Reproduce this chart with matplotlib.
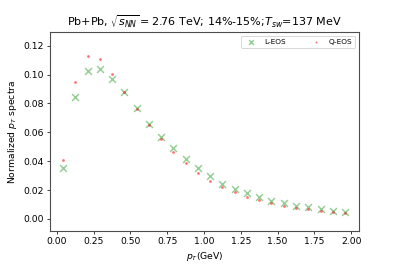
import numpy as np
import matplotlib
matplotlib.use("Agg")
import matplotlib.pyplot as plt

# pT bin centres (GeV)
pt = np.array([0.042, 0.125, 0.208, 0.292, 0.375, 0.458, 0.542, 0.625,
               0.708, 0.792, 0.875, 0.958, 1.042, 1.125, 1.208, 1.292,
               1.375, 1.458, 1.542, 1.625, 1.708, 1.792, 1.875, 1.958])

# normalized spectra
l_eos = [0.0355, 0.0845, 0.1025, 0.1035, 0.0970, 0.0880, 0.0770, 0.0660,
         0.0570, 0.0490, 0.0415, 0.0350, 0.0295, 0.0245, 0.0210, 0.0180,
         0.0152, 0.0127, 0.0107, 0.0092, 0.0080, 0.0068, 0.0056, 0.0046]
q_eos = [0.0405, 0.0950, 0.1130, 0.1110, 0.1005, 0.0880, 0.0760, 0.0650,
         0.0550, 0.0460, 0.0385, 0.0320, 0.0265, 0.0220, 0.0185, 0.0155,
         0.0130, 0.0107, 0.0090, 0.0077, 0.0066, 0.0056, 0.0048, 0.0040]

fig, ax = plt.subplots(figsize=(6, 4), dpi=66.5)
fig.subplots_adjust(left=0.125, right=0.9, top=0.88, bottom=0.132)
ax.scatter(pt, l_eos, marker='x', s=55, linewidths=1.6, color='tab:green', alpha=0.5, label='L-EOS')
ax.scatter(pt, q_eos, marker='o', s=9, color='red', alpha=0.55, linewidths=0, label='Q-EOS')

ax.set_xlim(-0.048, 2.054)
ax.set_ylim(-0.0083, 0.1295)
ax.set_xticks(np.arange(0, 2.01, 0.25))
ax.set_yticks(np.arange(0, 0.121, 0.02))
ax.set_xlabel(r'$p_T$(GeV)')
ax.set_ylabel(r'Normalized $p_T$ spectra')
ax.set_title(r'Pb+Pb, $\sqrt{s_{NN}}=2.76$ TeV; 14%-15%;$T_{sw}$=137 MeV')
for sp in ax.spines.values():
    sp.set_color('0.3')
    sp.set_linewidth(1.2)
ax.legend(loc='upper right', ncol=2, fontsize=8, columnspacing=3.0, markerscale=0.7)

fig.savefig('out.png', dpi=66.5)
